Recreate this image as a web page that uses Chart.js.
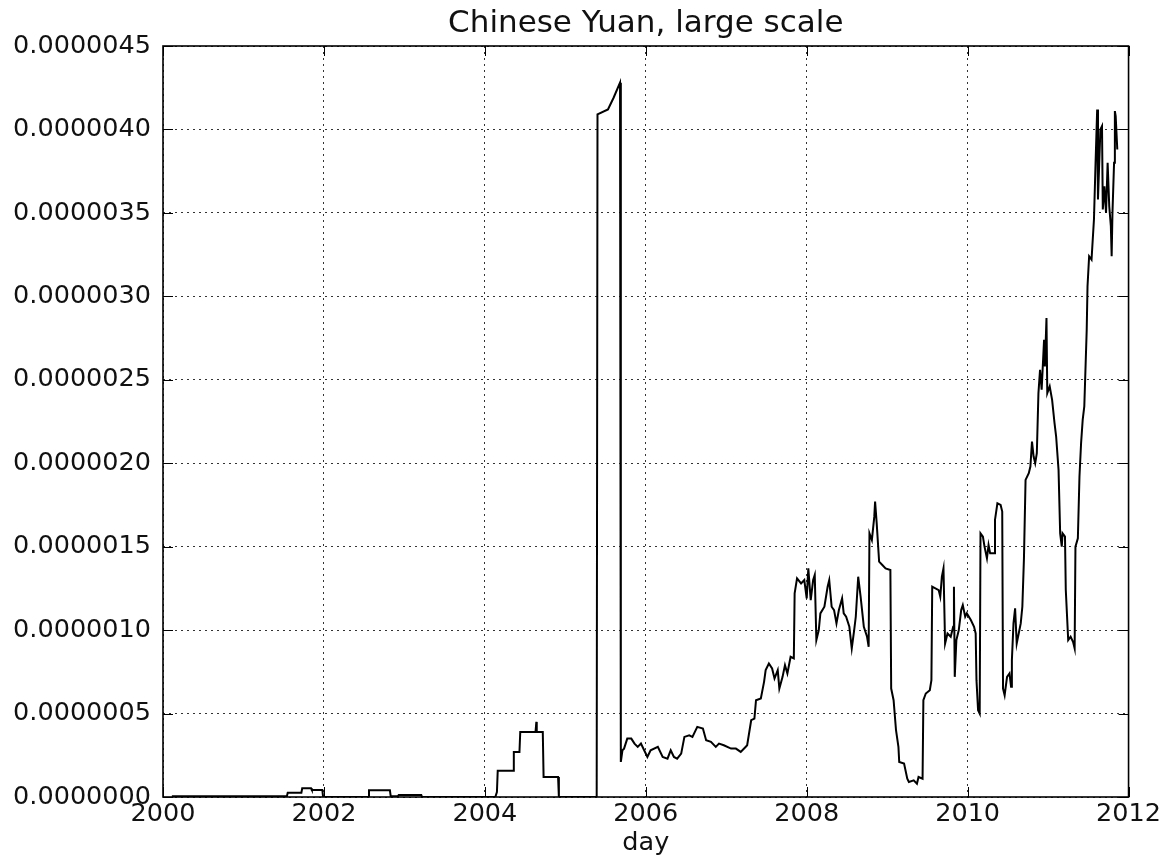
<!DOCTYPE html>
<html>
<head>
<meta charset="utf-8">
<title>Chinese Yuan, large scale</title>
<script src="https://cdn.jsdelivr.net/npm/chart.js@4/dist/chart.umd.min.js"></script>
<style>
  html, body { margin: 0; padding: 0; background: #fff; }
  #wrap { width: 1163px; height: 857px; position: relative; }
</style>
</head>
<body>
<div id="wrap"><canvas id="chart" width="1163" height="857"></canvas></div>
<script>
// Observation dates, as decimal years
const dayYears = [
  2000.11, 2001.54, 2001.55, 2001.72, 2001.73, 2001.84, 2001.85, 2001.98, 2001.99, 2002.55,
  2002.56, 2002.82, 2002.83, 2002.92, 2002.93, 2003.21, 2003.22, 2004.13, 2004.15, 2004.16,
  2004.35, 2004.36, 2004.43, 2004.44, 2004.63, 2004.64, 2004.645, 2004.72, 2004.73, 2004.91,
  2004.92, 2005.39, 2005.40, 2005.53, 2005.60, 2005.68, 2005.69, 2005.71, 2005.73, 2005.77,
  2005.82, 2005.86, 2005.90, 2005.94, 2005.98, 2006.02, 2006.06, 2006.15, 2006.21, 2006.27,
  2006.31, 2006.35, 2006.39, 2006.44, 2006.48, 2006.54, 2006.58, 2006.64, 2006.71, 2006.75,
  2006.81, 2006.87, 2006.91, 2006.97, 2007.06, 2007.12, 2007.18, 2007.24, 2007.26, 2007.31,
  2007.35, 2007.37, 2007.43, 2007.47, 2007.49, 2007.53, 2007.57, 2007.60, 2007.64, 2007.66,
  2007.70, 2007.73, 2007.76, 2007.80, 2007.84, 2007.85, 2007.88, 2007.93, 2007.97, 2008.00,
  2008.02, 2008.05, 2008.08, 2008.10, 2008.12, 2008.15, 2008.17, 2008.22, 2008.26, 2008.28,
  2008.31, 2008.34, 2008.37, 2008.40, 2008.44, 2008.46, 2008.49, 2008.53, 2008.56, 2008.59,
  2008.61, 2008.64, 2008.67, 2008.71, 2008.75, 2008.77, 2008.78, 2008.81, 2008.84, 2008.85,
  2008.87, 2008.90, 2008.94, 2008.98, 2009.04, 2009.05, 2009.08, 2009.11, 2009.14, 2009.15,
  2009.21, 2009.25, 2009.27, 2009.33, 2009.37, 2009.39, 2009.44, 2009.45, 2009.48, 2009.53,
  2009.55, 2009.56, 2009.64, 2009.66, 2009.68, 2009.70, 2009.72, 2009.75, 2009.79, 2009.82,
  2009.83, 2009.84, 2009.86, 2009.89, 2009.92, 2009.94, 2009.97, 2009.99, 2010.04, 2010.08,
  2010.10, 2010.11, 2010.13, 2010.15, 2010.16, 2010.19, 2010.21, 2010.24, 2010.26, 2010.28,
  2010.33, 2010.34, 2010.37, 2010.41, 2010.43, 2010.44, 2010.46, 2010.49, 2010.52, 2010.54,
  2010.55, 2010.57, 2010.59, 2010.61, 2010.66, 2010.68, 2010.70, 2010.72, 2010.76, 2010.78,
  2010.80, 2010.82, 2010.84, 2010.86, 2010.88, 2010.90, 2010.92, 2010.95, 2010.96, 2010.98,
  2010.99, 2011.02, 2011.05, 2011.08, 2011.10, 2011.13, 2011.15, 2011.17, 2011.18, 2011.21,
  2011.22, 2011.25, 2011.28, 2011.31, 2011.33, 2011.34, 2011.37, 2011.39, 2011.41, 2011.43,
  2011.45, 2011.48, 2011.49, 2011.51, 2011.54, 2011.57, 2011.59, 2011.61, 2011.62, 2011.65,
  2011.67, 2011.68, 2011.70, 2011.72, 2011.74, 2011.76, 2011.78, 2011.79, 2011.80, 2011.82,
  2011.83, 2011.84, 2011.86
];

// Values in millionths (multiplied by 1e-6 when plotted)
const yuanMicro = [
  0.005, 0.005, 0.026, 0.026, 0.052, 0.052, 0.042, 0.042, 0.000, 0.000,
  0.040, 0.040, 0.005, 0.005, 0.012, 0.012, 0.000, 0.000, 0.030, 0.158,
  0.158, 0.270, 0.270, 0.390, 0.390, 0.450, 0.390, 0.390, 0.120, 0.120,
  0.000, 0.000, 4.09, 4.12, 4.19, 4.28, 0.21, 0.28, 0.29, 0.35,
  0.35, 0.32, 0.30, 0.32, 0.28, 0.24, 0.28, 0.30, 0.24, 0.23,
  0.28, 0.24, 0.23, 0.26, 0.36, 0.37, 0.36, 0.42, 0.41, 0.34,
  0.33, 0.30, 0.32, 0.31, 0.29, 0.29, 0.27, 0.30, 0.31, 0.46,
  0.47, 0.58, 0.59, 0.69, 0.76, 0.80, 0.77, 0.71, 0.76, 0.65,
  0.72, 0.79, 0.74, 0.84, 0.83, 1.22, 1.31, 1.28, 1.30, 1.19,
  1.37, 1.18, 1.30, 1.33, 0.94, 1.00, 1.10, 1.14, 1.26, 1.30,
  1.14, 1.12, 1.04, 1.12, 1.19, 1.10, 1.08, 1.02, 0.89, 1.00,
  1.08, 1.32, 1.20, 1.02, 0.96, 0.90, 1.58, 1.54, 1.68, 1.77,
  1.64, 1.41, 1.39, 1.37, 1.36, 0.65, 0.58, 0.40, 0.30, 0.21,
  0.20, 0.11, 0.09, 0.10, 0.08, 0.12, 0.11, 0.58, 0.62, 0.64,
  0.70, 1.26, 1.24, 1.20, 1.32, 1.37, 0.92, 0.98, 0.96, 1.02,
  1.26, 0.72, 0.94, 1.00, 1.12, 1.15, 1.08, 1.10, 1.06, 1.02,
  0.98, 0.70, 0.52, 0.50, 1.58, 1.56, 1.50, 1.43, 1.51, 1.46,
  1.46, 1.66, 1.76, 1.75, 1.71, 0.65, 0.61, 0.72, 0.74, 0.66,
  0.82, 1.04, 1.13, 0.92, 1.04, 1.14, 1.43, 1.90, 1.94, 1.98,
  2.13, 2.04, 2.00, 2.06, 2.42, 2.56, 2.44, 2.74, 2.58, 2.87,
  2.42, 2.46, 2.38, 2.24, 2.16, 1.96, 1.58, 1.50, 1.58, 1.56,
  1.24, 0.94, 0.96, 0.93, 0.89, 1.50, 1.55, 1.92, 2.12, 2.26,
  2.34, 2.80, 3.06, 3.24, 3.22, 3.46, 3.80, 4.12, 3.58, 4.00,
  4.02, 3.52, 3.66, 3.50, 3.80, 3.54, 3.42, 3.24, 3.50, 3.80,
  4.11, 4.08, 3.88
];

// Axis ticks
const xTickYears = [2000, 2002, 2004, 2006, 2008, 2010, 2012];
const yTickValues = [0, 0.5e-6, 1.0e-6, 1.5e-6, 2.0e-6, 2.5e-6, 3.0e-6, 3.5e-6, 4.0e-6, 4.5e-6];

const MICRO = 1e-6;
const n = Math.min(dayYears.length, yuanMicro.length);
const points = [];
for (let i = 0; i < n; i++) points.push({ x: dayYears[i], y: yuanMicro[i] * MICRO });

const FONT = 'DejaVu Sans';
const TICK_LEN = 10;

// Box around the plot area plus inward-pointing tick marks on all four sides
const frameAndTicks = {
  id: 'frameAndTicks',
  afterDatasetsDraw(chart) {
    const { ctx, chartArea: a, scales } = chart;
    const xs = scales.x, ys = scales.y;
    ctx.save();
    ctx.strokeStyle = '#000';
    ctx.lineWidth = 1;
    ctx.beginPath();
    xs.ticks.forEach(t => {
      const px = Math.round(xs.getPixelForValue(t.value)) + 0.5;
      ctx.moveTo(px, a.bottom); ctx.lineTo(px, a.bottom - TICK_LEN);
      ctx.moveTo(px, a.top); ctx.lineTo(px, a.top + TICK_LEN);
    });
    ys.ticks.forEach(t => {
      const py = Math.round(ys.getPixelForValue(t.value)) + 0.5;
      ctx.moveTo(a.left, py); ctx.lineTo(a.left + TICK_LEN, py);
      ctx.moveTo(a.right, py); ctx.lineTo(a.right - TICK_LEN, py);
    });
    ctx.stroke();
    ctx.lineWidth = 1.6;
    ctx.strokeRect(a.left, a.top, a.right - a.left, a.bottom - a.top);
    ctx.restore();
  }
};

new Chart(document.getElementById('chart'), {
  type: 'line',
  data: {
    datasets: [{
      data: points,
      borderColor: '#000',
      borderWidth: 2,
      pointRadius: 0,
      tension: 0,
      fill: false
    }]
  },
  plugins: [frameAndTicks],
  options: {
    responsive: false,
    animation: false,
    parsing: false,
    normalized: true,
    layout: { padding: { left: 0, right: 33, top: 0, bottom: 0 } },
    plugins: {
      legend: { display: false },
      tooltip: { enabled: false },
      title: {
        display: true,
        fullSize: false,
        text: 'Chinese Yuan, large scale',
        color: '#111',
        font: { family: FONT, size: 31, weight: 'normal', lineHeight: 1.2 },
        padding: { top: 5, bottom: 3.8 }
      }
    },
    scales: {
      x: {
        type: 'linear',
        min: 2000,
        max: 2012,
        afterBuildTicks: s => { s.ticks = xTickYears.map(v => ({ value: v })); },
        afterFit: s => { s.height = 60; },
        ticks: {
          color: '#111',
          padding: 2,
          maxRotation: 0,
          autoSkip: false,
          font: { family: FONT, size: 25.5 },
          callback: v => String(v)
        },
        grid: { color: '#333', lineWidth: 1, drawTicks: false },
        border: { display: false, dash: [2, 4] },
        title: {
          display: true,
          text: 'day',
          color: '#111',
          font: { family: FONT, size: 25.5, lineHeight: 1.2 },
          padding: { top: 0, bottom: -2 }
        }
      },
      y: {
        type: 'linear',
        min: 0,
        max: 4.5e-6,
        afterBuildTicks: s => { s.ticks = yTickValues.map(v => ({ value: v })); },
        afterFit: s => { s.width = 163; },
        ticks: {
          color: '#111',
          padding: 12,
          autoSkip: false,
          font: { family: FONT, size: 25.5 },
          callback: v => Number(v).toFixed(7)
        },
        grid: { color: '#333', lineWidth: 1, drawTicks: false },
        border: { display: false, dash: [2, 4] }
      }
    }
  }
});
</script>
</body>
</html>
